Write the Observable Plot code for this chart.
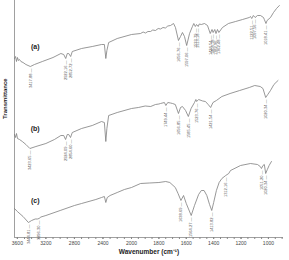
<!DOCTYPE html>
<html><head><meta charset="utf-8">
<script src="https://cdn.jsdelivr.net/npm/d3@7"></script>
<script src="https://cdn.jsdelivr.net/npm/@observablehq/plot@0.6"></script>
<style>body{margin:0;background:#fff}</style>
</head><body><div id="chart"></div>
<script>
// Spectrum (a): [wavenumber cm-1, transmittance (arbitrary units)]
const seriesA = [[3640,179],[3625,181],[3612,176],[3598,180],[3585,177],[3570,178],[3550,176],[3520,175],[3480,173],[3418,171],[3360,173],[3250,176],[3100,180],[2990,184],[2950,183],[2922,179],[2900,184],[2880,184],[2853,181],[2830,186],[2700,189],[2550,191],[2420,193],[2380,193],[2360,179],[2345,187],[2320,195],[2200,199],[2000,203],[1934,204],[1915,205.5],[1898,204.5],[1880,206],[1861,206],[1845,207.5],[1825,207],[1805,209],[1788,208.5],[1770,210],[1752,209.5],[1735,211.5],[1715,212],[1693,214],[1679,210],[1657,197],[1642,201],[1628,205],[1613,201],[1597,192],[1576,204],[1555,211],[1545,214],[1534,211],[1525,213],[1513,211],[1505,213.5],[1490,213],[1467,214],[1445,212],[1425,204],[1412,208],[1404,205],[1392,208],[1383,204],[1372,208],[1362,205],[1336,210],[1292,214],[1240,216],[1189,218],[1140,220],[1131,221],[1122,219],[1110,222],[1097,220],[1080,222],[1058,222],[1036,220],[1030,218],[1018,214],[1010,217],[985,220],[963,225],[941,229],[920,232]];
// Spectrum (b)
const seriesB = [[3640,103],[3625,100],[3612,104],[3598,99],[3570,98],[3530,96],[3480,93],[3424,89],[3340,91],[3200,94],[3080,98],[2990,102],[2950,102],[2924,98],[2900,103],[2880,103],[2855,100],[2830,105],[2700,109],[2550,112],[2420,116],[2380,115],[2360,96],[2345,109],[2320,122],[2200,125],[2000,129],[1950,130],[1900,131.5],[1860,131],[1825,133],[1800,133.5],[1788,134],[1760,135],[1749,132],[1735,135],[1715,134.5],[1700,134],[1680,133],[1657,124],[1642,130],[1628,131],[1605,127],[1585,121],[1565,129],[1540,135],[1530,138],[1524,136],[1510,138],[1480,136.5],[1460,136],[1440,133],[1422,130],[1405,135],[1380,137],[1340,141],[1280,144],[1210,147],[1140,150],[1100,152],[1060,151],[1040,149],[1020,140],[1005,143],[985,147],[960,153],[930,157]];
// Spectrum (c)
const seriesC = [[3640,29],[3600,26],[3520,21],[3445,15],[3400,17],[3350,18.5],[3320,18.5],[3296,19],[3270,20.5],[3200,22],[3000,27],[2800,32],[2700,34],[2500,38],[2420,40],[2380,41],[2360,35],[2340,40],[2300,42],[2200,45],[2100,48],[2000,50],[1934,54],[1870,54.5],[1800,55],[1750,56],[1720,55],[1680,50],[1660,44],[1639,37],[1620,42],[1600,34],[1564,22],[1540,32],[1510,43],[1490,47],[1470,47],[1450,42],[1430,33],[1414,27],[1400,35],[1380,47],[1360,55],[1340,59],[1312,62],[1290,64],[1277,67],[1204,72],[1131,74],[1080,73],[1060,71],[1051,69],[1040,72],[1030,73],[1020,64],[1008,68],[995,72],[978,76]];

// Peak annotations (cm-1)
const peaksA = [3417.88, 2922.16, 2852.72, 1656.76, 1597.06, 1533.79, 1513.18, 1424.54, 1404.18, 1382.96, 1362.48, 1122.51, 1097.56, 1018.41];
const peaksB = [3423.65, 2924.09, 2854.60, 1749.44, 1656.85, 1585.45, 1523.76, 1421.54, 1020.34];
const peaksC = [3444.81, 3296.30, 1638.69, 1564.27, 1413.82, 1312.16, 1051.20, 1020.34];

const seriesNames = ["(a)", "(b)", "(c)"];
const majorTicks = [3600, 3200, 2800, 2400, 2000, 1800, 1600, 1400, 1200, 1000];
const minorTicks = [...d3.range(3600, 2000, -100), ...d3.range(2000, 899, -50)];
const xDomain = [3640, 2000, 890];
const xLabel = "Wavenumber (cm\u207B\u00B9)";
const yLabel = "Transmittance";

const allSeries = [seriesA, seriesB, seriesC];
const allPeaks = [peaksA, peaksB, peaksC];
const rows = allSeries.flatMap((s, i) => s.map(([wn, t]) => ({wn, t, s: seriesNames[i]})));
const labels = allPeaks.flatMap((ps, i) => ps.map(p => {
  const near = d3.least(allSeries[i], d => Math.abs(d[0] - p));
  return {wn: p, t: near[1], text: p.toFixed(2) + " \u2014"};
}));
const panel = allSeries.map((s, i) => {
  const near = d3.least(s, d => Math.abs(d[0] - 3350));
  return {wn: 3350, t: near[1], text: seriesNames[i]};
});

const chart = Plot.plot({
  width: 289, height: 260,
  marginLeft: 14, marginRight: 6, marginTop: 0, marginBottom: 23,
  style: {fontFamily: "'Liberation Sans', Arial, sans-serif", background: "#fff", overflow: "visible"},
  x: {type: "linear", domain: xDomain, range: [14, 131, 283], label: null},
  y: {domain: [0, 237], axis: null},
  marks: [
    Plot.ruleX([xDomain[0]], {stroke: "#888", strokeWidth: 0.8}),
    Plot.ruleY([0], {stroke: "#888", strokeWidth: 0.8}),
    Plot.axisX(minorTicks, {tickSize: 2, tickFormat: () => "", stroke: "#888"}),
    Plot.axisX(majorTicks, {tickSize: 2, tickPadding: 1.5, fontSize: 5, fill: "#444", stroke: "#888", tickFormat: d => String(d), label: null}),
    Plot.line(rows, {x: "wn", y: "t", z: "s", stroke: "#7d7d7d", strokeWidth: 0.8}),
    Plot.text(labels, {x: "wn", y: "t", text: "text", rotate: -90, textAnchor: "end", dy: 2, fontSize: 4, fill: "#555"}),
    Plot.text(panel, {x: "wn", y: "t", text: "text", dy: -18, fontSize: 7, fontWeight: "bold", fill: "#222"}),
    Plot.text([xLabel], {text: d => d, frameAnchor: "bottom", dy: 16, fontSize: 6.5, fontWeight: "bold", fill: "#222"}),
    Plot.text([yLabel], {text: d => d, frameAnchor: "left", rotate: -90, dx: -9, fontSize: 6, fontWeight: "bold", fill: "#222"})
  ]
});
document.getElementById("chart").append(chart);
</script>
</body></html>
